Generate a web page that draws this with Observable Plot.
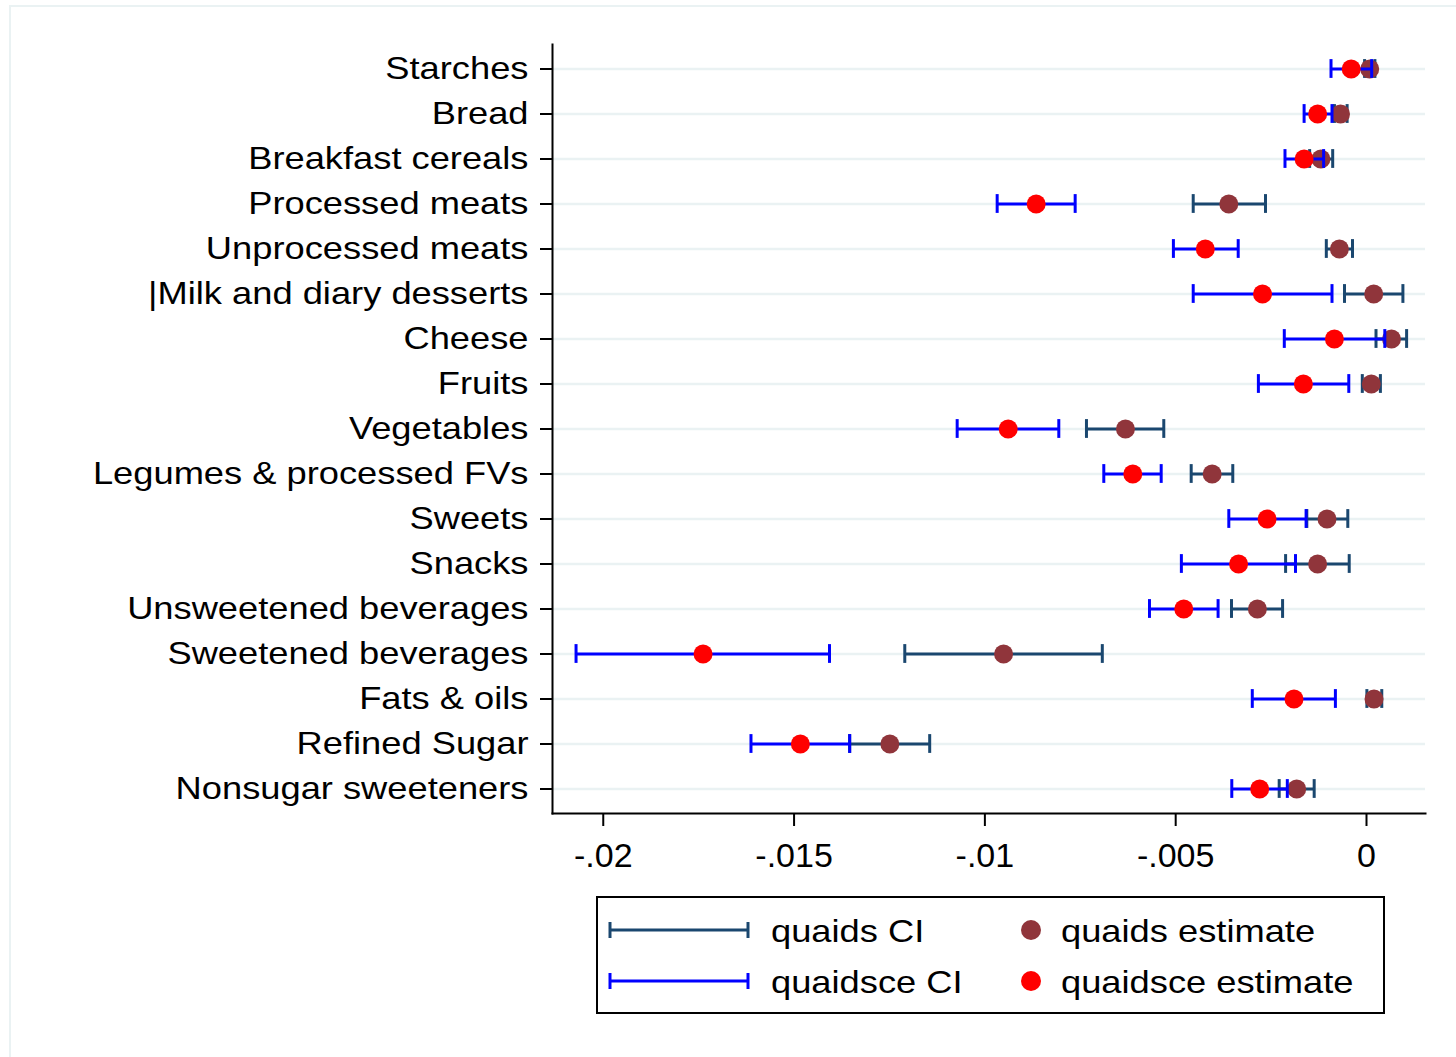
<!DOCTYPE html>
<html><head><meta charset="utf-8">
<script src="https://cdn.jsdelivr.net/npm/d3@7"></script>
<script src="https://cdn.jsdelivr.net/npm/@observablehq/plot@0.6"></script>
<style>
body{margin:0;background:#fff;}
#wrap{position:relative;width:1456px;height:1057px;overflow:hidden;font-family:"Liberation Sans",Arial,sans-serif;background:#fff;}
#border{position:absolute;left:9px;top:5px;width:1500px;height:1100px;border-left:2px solid #eaf2f3;border-top:2px solid #eaf2f3;pointer-events:none;}
svg{display:block;}
</style></head><body><div id="wrap"></div>
<script>
const categories = ["Starches","Bread","Breakfast cereals","Processed meats","Unprocessed meats","|Milk and diary desserts","Cheese","Fruits","Vegetables","Legumes & processed FVs","Sweets","Snacks","Unsweetened beverages","Sweetened beverages","Fats & oils","Refined Sugar","Nonsugar sweeteners"];

const quaidsEst = [0.000084,-0.000681,-0.001195,-0.003608,-0.00071,0.000189,0.000655,0.000126,-0.006316,-0.004044,-0.001035,-0.001281,-0.002859,-0.00951,0.000197,-0.01249,-0.001829];
const quaidsLo  = [-0.00005,-0.00084,-0.00149,-0.004541,-0.001053,-0.000577,0.000249,-0.00011,-0.007338,-0.004594,-0.001564,-0.00212,-0.003538,-0.012099,0.00001,-0.013543,-0.002288];
const quaidsHi  = [0.00022,-0.000508,-0.000886,-0.002647,-0.000367,0.000954,0.001051,0.000364,-0.005312,-0.003504,-0.00049,-0.000453,-0.002199,-0.006923,0.0004,-0.011446,-0.001371];

const ceEst = [-0.000401,-0.00128,-0.001635,-0.008656,-0.004224,-0.002725,-0.000841,-0.001654,-0.00939,-0.006124,-0.002605,-0.003352,-0.004788,-0.017385,-0.0019,-0.014835,-0.002799];
const ceLo  = [-0.00093,-0.001635,-0.002136,-0.009678,-0.00506,-0.004541,-0.002154,-0.002833,-0.010726,-0.006884,-0.003608,-0.004851,-0.005687,-0.020713,-0.002993,-0.016129,-0.00353];
const ceHi  = [0.000136,-0.000904,-0.001124,-0.007634,-0.003362,-0.000904,0.00048,-0.000464,-0.008063,-0.00538,-0.001583,-0.00186,-0.003889,-0.014072,-0.000815,-0.013543,-0.002075];

const xTicks = [-0.02,-0.015,-0.01,-0.005,0];
const xTickLabels = ["-.02","-.015","-.01","-.005","0"];
const xDomain = [-0.02133, 0.001546];

const legendItems = [
  {label:"quaids CI", kind:"ci", color:"#1a476f", col:0, row:0},
  {label:"quaidsce CI", kind:"ci", color:"#0000ff", col:0, row:1},
  {label:"quaids estimate", kind:"dot", color:"#90353b", col:1, row:0},
  {label:"quaidsce estimate", kind:"dot", color:"#ff0000", col:1, row:1}
];

const data = categories.map((c,i)=>({cat:c, qEst:quaidsEst[i], qLo:quaidsLo[i], qHi:quaidsHi[i], cEst:ceEst[i], cLo:ceLo[i], cHi:ceHi[i]}));

const NAVY="#1a476f", MAROON="#90353b", BLUE="#0000ff", RED="#ff0000";
const capOpts = {insetTop:13.1, insetBottom:13.1, strokeWidth:3};

const chart = Plot.plot({
  width:1456, height:880,
  marginLeft:552, marginRight:31, marginTop:44, marginBottom:67,
  style:{fontFamily:"'Liberation Sans', Arial, sans-serif", background:"transparent", color:"#000", overflow:"visible"},
  x:{domain:xDomain},
  y:{type:"band", domain:categories, padding:0},
  marks:[
    Plot.ruleY(categories, {y:d=>d, stroke:"#eaf2f3", strokeWidth:2.5}),
    Plot.frame({anchor:"left", stroke:"#000", strokeWidth:2}),
    Plot.frame({anchor:"bottom", stroke:"#000", strokeWidth:2}),
    Plot.axisY({tickSize:12, tickPadding:12, fontSize:32, strokeWidth:2, label:null}),
    Plot.axisX({ticks:xTicks, tickFormat:d=>xTickLabels[xTicks.indexOf(d)], tickSize:13, tickPadding:16, fontSize:34, strokeWidth:2, label:null}),
    // quaids
    Plot.ruleY(data, {y:"cat", x1:"qLo", x2:"qHi", stroke:NAVY, strokeWidth:3}),
    Plot.tickX(data, {y:"cat", x:"qLo", stroke:NAVY, ...capOpts}),
    Plot.tickX(data, {y:"cat", x:"qHi", stroke:NAVY, ...capOpts}),
    Plot.dot(data, {y:"cat", x:"qEst", r:9.5, fill:MAROON, stroke:null}),
    // quaidsce
    Plot.ruleY(data, {y:"cat", x1:"cLo", x2:"cHi", stroke:BLUE, strokeWidth:3}),
    Plot.tickX(data, {y:"cat", x:"cLo", stroke:BLUE, ...capOpts}),
    Plot.tickX(data, {y:"cat", x:"cHi", stroke:BLUE, ...capOpts}),
    Plot.dot(data, {y:"cat", x:"cEst", r:9.5, fill:RED, stroke:null})
  ]
});

// widen the y labels horizontally (Stata-like wide rendering)
chart.querySelectorAll('g[aria-label="y-axis tick label"] text').forEach(t=>{
  const tr = t.getAttribute("transform") || "";
  t.setAttribute("transform", tr + " scale(1.134,1)");
});

const wrap = document.getElementById("wrap");
wrap.appendChild(chart);

// legend below the plot
const leg = d3.select(wrap).append("svg").attr("width",1456).attr("height",177);
leg.append("rect").attr("x",597).attr("y",17).attr("width",787).attr("height",116)
  .attr("fill","none").attr("stroke","#000").attr("stroke-width",2);
const rowY = [50, 101];
const colX = [610, 1031];
legendItems.forEach(it=>{
  const y = rowY[it.row];
  const g = leg.append("g");
  let tx;
  if (it.kind==="ci"){
    const x0 = colX[it.col], x1 = x0+138;
    g.append("line").attr("x1",x0).attr("x2",x1).attr("y1",y).attr("y2",y).attr("stroke",it.color).attr("stroke-width",3);
    [x0,x1].forEach(x=>g.append("line").attr("x1",x).attr("x2",x).attr("y1",y-8).attr("y2",y+8).attr("stroke",it.color).attr("stroke-width",3));
    tx = 771;
  } else {
    g.append("circle").attr("cx",colX[it.col]).attr("cy",y).attr("r",10).attr("fill",it.color);
    tx = 1061;
  }
  g.append("text").attr("transform",`translate(${tx},${y}) scale(1.134,1)`).attr("dy","0.36em")
    .attr("font-family","'Liberation Sans', Arial, sans-serif").attr("font-size",32).attr("fill","#000").text(it.label);
});

const b = document.createElement("div"); b.id="border"; wrap.appendChild(b);
</script>
</body></html>
